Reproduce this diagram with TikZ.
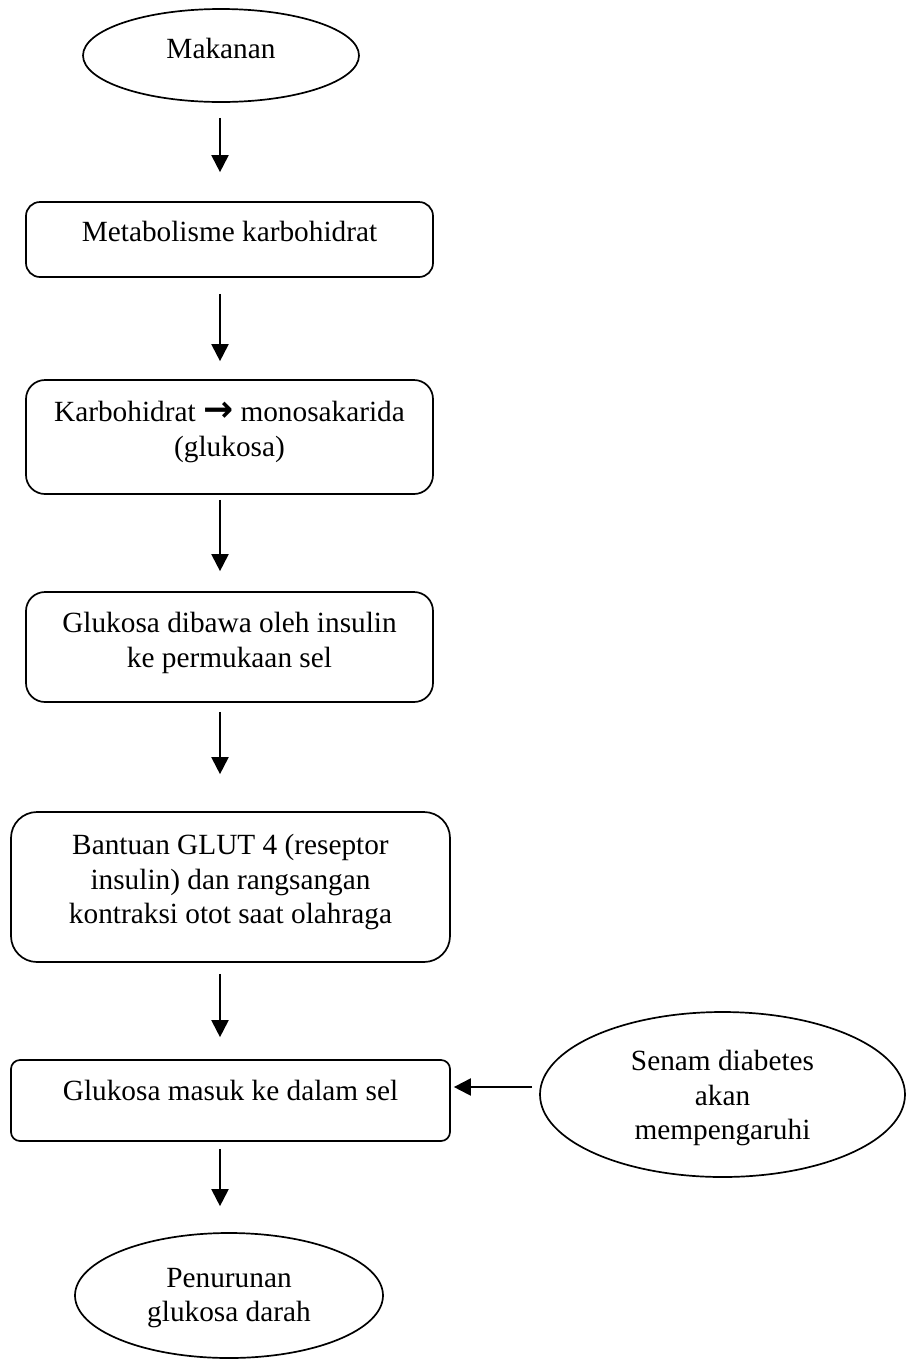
\documentclass[tikz,border=0pt]{standalone}
\usepackage{fontspec}
\setmainfont{Liberation Serif}
\newfontfamily\arrfont{DejaVu Sans}
\usetikzlibrary{shapes.geometric,arrows.meta}
\begin{document}
\begin{tikzpicture}[x=1pt,y=-1pt,
  every node/.style={font=\fontsize{29.3}{34.5}\selectfont},
  rbox/.style={draw, line width=1.7pt, inner sep=0pt, rectangle},
  oval/.style={draw, line width=1.7pt, inner sep=0pt, ellipse},
  txt/.style={inner sep=0pt, align=center},
  arr/.style={line width=2pt, -{Triangle[width=17pt,length=17pt]}}]
\useasboundingbox (0,0) rectangle (907,1361);
% nodes
\node[oval, minimum width=276, minimum height=93] (e1) at (221,55.5) {};
\node[txt] (t1) at ([yshift=7pt]e1.center) {Makanan};

\node[rbox, rounded corners=14pt, minimum width=407, minimum height=75] (b2) at (229.5,239.5) {};
\node[txt] (t2) at ([yshift=8pt]b2.center) {Metabolisme karbohidrat};

\node[rbox, rounded corners=19pt, minimum width=407, minimum height=114] (b3) at (229.5,437) {};
\node[txt] (t3) at ([yshift=5pt]b3.center) {Karbohidrat {\arrfont\bfseries\fontsize{36}{34.5}\selectfont →} monosakarida\\(glukosa)};

\node[rbox, rounded corners=19pt, minimum width=407, minimum height=110] (b4) at (229.5,647) {};
\node[txt] (t4) at ([yshift=4pt]b4.center) {Glukosa dibawa oleh insulin\\ke permukaan sel};

\node[rbox, rounded corners=26pt, minimum width=439, minimum height=150] (b5) at (230.5,887) {};
\node[txt] (t5) at ([yshift=5pt]b5.center) {Bantuan GLUT 4 (reseptor\\insulin) dan rangsangan\\kontraksi otot saat olahraga};

\node[rbox, rounded corners=9pt, minimum width=439, minimum height=81] (b6) at (230.5,1100.5) {};
\node[txt] (t6) at ([yshift=10pt]b6.center) {Glukosa masuk ke dalam sel};

\node[oval, minimum width=365, minimum height=165] (sen) at (722.5,1094.5) {};
\node[txt] (tsen) at ([yshift=-3.5pt]sen.center) {Senam diabetes\\akan\\mempengaruhi};

\node[oval, minimum width=308, minimum height=125] (e3) at (229,1295.5) {};
\node[txt] (t7) at ([yshift=-2.5pt]e3.center) {Penurunan\\glukosa darah};

% connectors
\draw[arr, shorten <=15pt, shorten >=29pt] ([xshift=-1pt]e1.south) -- ([xshift=-9.5pt]b2.north);
\draw[arr, shorten <=16pt, shorten >=18pt] ([xshift=-9.5pt]b2.south) -- ([xshift=-9.5pt]b3.north);
\draw[arr, shorten <=5pt, shorten >=20pt] ([xshift=-9.5pt]b3.south) -- ([xshift=-9.5pt]b4.north);
\draw[arr, shorten <=9pt, shorten >=37pt] ([xshift=-9.5pt]b4.south) -- ([xshift=-10.5pt]b5.north);
\draw[arr, shorten <=11pt, shorten >=22pt] ([xshift=-10.5pt]b5.south) -- ([xshift=-10.5pt]b6.north);
\draw[arr, shorten <=7pt, shorten >=26pt] ([xshift=-10.5pt]b6.south) -- ([xshift=-9pt]e3.north);
\draw[arr, shorten <=7pt, shorten >=3pt] ([yshift=7.5pt]sen.west) -- ([yshift=7.5pt]sen.west -| b6.east);
\end{tikzpicture}
\end{document}
